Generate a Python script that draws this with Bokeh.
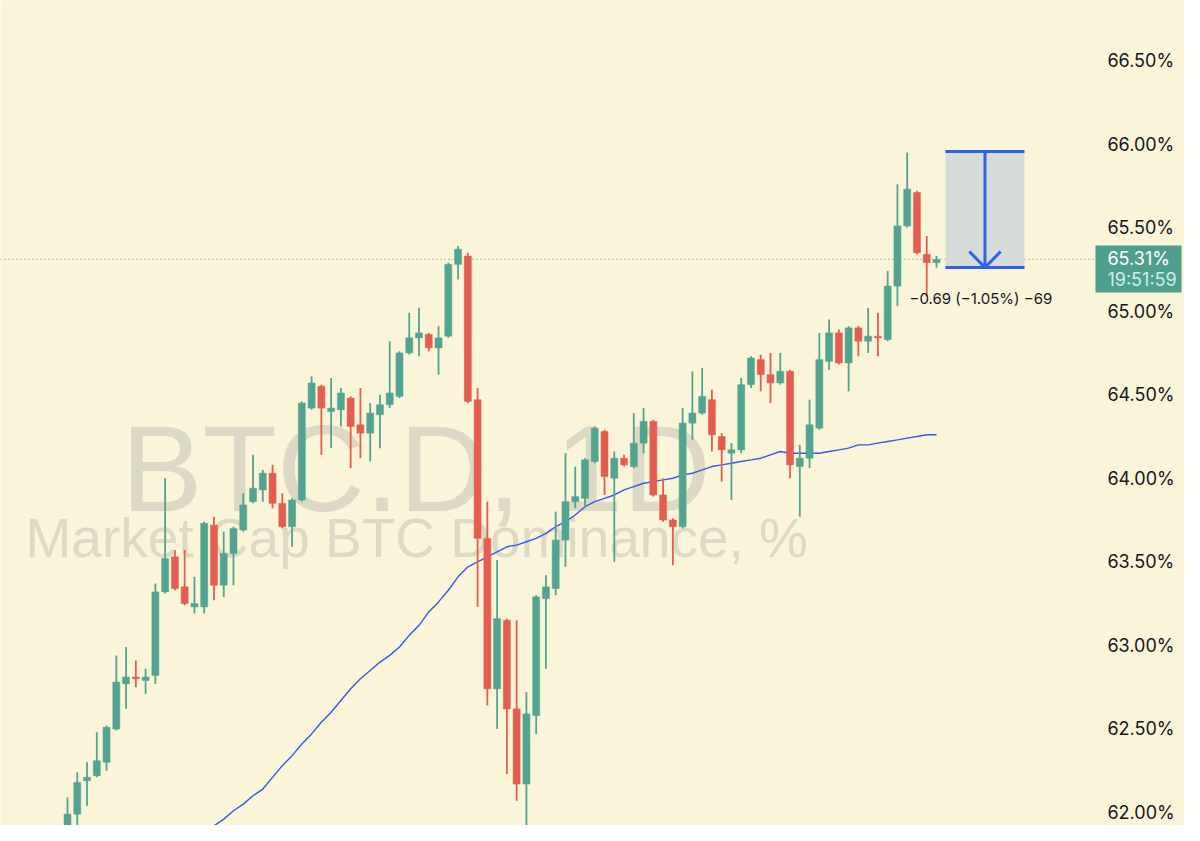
from bokeh.plotting import figure
from bokeh.models import Range1d, FixedTicker, PrintfTickFormatter, Label, ColumnDataSource
from bokeh.embed import file_html
from bokeh.resources import INLINE

# ---------------- data (daily candles, BTC.D %) ----------------
opens = [61.75, 61.99, 62.19, 62.22, 62.30, 62.50, 62.77, 62.81, 62.79, 62.82,
         63.32, 63.53, 63.35, 63.23, 63.23, 63.72, 63.36, 63.55, 63.69, 63.86,
         63.93, 64.03, 63.85, 63.71, 63.87, 64.42, 64.55, 64.40, 64.41, 64.48,
         64.32, 64.27, 64.38, 64.44, 64.49, 64.75, 64.84, 64.86, 64.78, 64.85,
         65.28, 65.33, 64.47, 63.64, 62.74, 63.15, 62.62, 62.17, 62.58, 63.28,
         63.34, 63.63, 63.86, 63.88, 64.10, 64.28, 64.00, 64.12, 64.07, 64.21,
         64.34, 63.90, 63.75, 63.71, 64.33, 64.39, 64.47, 64.25, 64.15, 64.17,
         64.56, 64.71, 64.62, 64.57, 64.64, 64.07, 64.12, 64.30, 64.70, 64.87,
         64.69, 64.90, 64.82, 64.85, 64.83, 65.15, 65.51, 65.71, 65.34, 65.29]
highs = [62.09, 62.24, 62.30, 62.48, 62.52, 62.94, 62.99, 62.91, 62.86, 63.37,
         64.00, 63.57, 63.57, 63.41, 63.74, 63.77, 63.68, 63.71, 63.91, 64.14,
         64.05, 64.08, 63.91, 63.88, 64.46, 64.61, 64.56, 64.60, 64.54, 64.49,
         64.54, 64.45, 64.50, 64.82, 64.76, 64.99, 65.02, 64.87, 64.91, 65.29,
         65.39, 65.35, 64.54, 63.86, 63.51, 63.16, 63.15, 62.72, 63.30, 63.42,
         63.80, 64.15, 64.07, 64.12, 64.31, 64.29, 64.16, 64.14, 64.39, 64.42,
         64.35, 64.00, 63.76, 64.42, 64.64, 64.66, 64.53, 64.27, 64.21, 64.60,
         64.73, 64.74, 64.75, 64.75, 64.65, 64.20, 64.47, 64.87, 64.95, 64.89,
         64.91, 64.91, 65.02, 64.99, 65.24, 65.76, 65.95, 65.72, 65.45, 65.33]
lows = [61.70, 61.88, 62.04, 62.21, 62.25, 62.49, 62.62, 62.75, 62.71, 62.77,
        63.31, 63.33, 63.24, 63.19, 63.19, 63.27, 63.29, 63.36, 63.68, 63.85,
        63.86, 63.82, 63.70, 63.59, 63.86, 64.41, 64.14, 64.18, 64.31, 64.06,
        64.12, 64.10, 64.18, 64.42, 64.48, 64.74, 64.73, 64.76, 64.62, 64.84,
        65.19, 64.45, 63.23, 62.64, 62.50, 62.23, 62.07, 61.90, 62.47, 62.86,
        63.30, 63.47, 63.82, 63.82, 64.09, 63.90, 63.50, 64.07, 64.06, 64.15,
        63.89, 63.74, 63.48, 63.70, 64.23, 64.38, 64.16, 63.98, 63.87, 64.15,
        64.54, 64.52, 64.45, 64.56, 64.00, 63.77, 64.06, 64.29, 64.65, 64.68,
        64.52, 64.73, 64.75, 64.73, 64.82, 65.03, 65.50, 65.34, 65.09, 65.26]
closes = [61.99, 62.18, 62.21, 62.31, 62.51, 62.78, 62.81, 62.80, 62.81, 63.32,
          63.52, 63.34, 63.25, 63.25, 63.73, 63.36, 63.55, 63.70, 63.84, 63.94,
          64.03, 63.85, 63.71, 63.87, 64.45, 64.57, 64.42, 64.42, 64.51, 64.31,
          64.27, 64.39, 64.44, 64.51, 64.75, 64.84, 64.87, 64.78, 64.84, 65.28,
          65.37, 64.46, 63.64, 62.74, 63.16, 62.62, 62.17, 62.59, 63.29, 63.35,
          63.63, 63.86, 63.89, 64.11, 64.30, 64.01, 64.12, 64.08, 64.21, 64.34,
          63.90, 63.75, 63.71, 64.33, 64.39, 64.49, 64.26, 64.17, 64.17, 64.56,
          64.72, 64.62, 64.57, 64.64, 64.08, 64.12, 64.32, 64.71, 64.87, 64.69,
          64.90, 64.82, 64.85, 64.84, 65.15, 65.51, 65.73, 65.35, 65.29, 65.31]

# moving average (starts at candle 13)
ma_start = 13
ma_values = [61.83, 61.87, 61.92, 61.96, 62.01, 62.05, 62.10, 62.14, 62.21, 62.28,
             62.34, 62.41, 62.47, 62.54, 62.60, 62.67, 62.74, 62.80, 62.85, 62.90,
             62.94, 62.99, 63.06, 63.12, 63.20, 63.26, 63.33, 63.41, 63.47, 63.50,
             63.53, 63.56, 63.59, 63.60, 63.62, 63.64, 63.67, 63.71, 63.74, 63.78,
             63.83, 63.86, 63.88, 63.90, 63.93, 63.95, 63.97, 63.98, 63.99, 64.00,
             64.02, 64.03, 64.05, 64.07, 64.08, 64.09, 64.10, 64.11, 64.12, 64.14,
             64.16, 64.15, 64.15, 64.15, 64.15, 64.16, 64.17, 64.18, 64.20, 64.20,
             64.21, 64.22, 64.23, 64.24, 64.25, 64.26, 64.26]

tick_values = [62.0, 62.5, 63.0, 63.5, 64.0, 64.5, 65.0, 65.5, 66.0, 66.5]
last_price = 65.31
last_price_text = "65.31%"
countdown_text = "19:51:59"

# price-range measurement (from the high down to the latest price)
measure_high = 65.955
measure_low = 65.261
measure_text = "\u22120.69 (\u22121.05%) \u221269"

watermark_title = "BTC.D, 1D"
watermark_sub = "Market Cap BTC Dominance, %"

# ---------------- style ----------------
BG = "#faf4d8"
UP = "#52a490"
DOWN = "#e35e51"
MA_COLOR = "#3559ec"
TOOL_BLUE = "#2f60f4"
WM = "#dcd9c4"
TAG = "#4f9f8e"

X0, X1 = -6.862, 114.40          # frame spans the whole width
SCALE_X = 105.28                  # where the price scale begins
Y0, Y1 = 61.922, 66.859

idx = list(range(len(opens)))
colors = [UP if c >= o else DOWN for o, c in zip(opens, closes)]
src = ColumnDataSource(dict(
    x=idx, o=opens, h=highs, l=lows, c=closes,
    top=[max(o, c) for o, c in zip(opens, closes)],
    bot=[min(o, c) for o, c in zip(opens, closes)],
    col=colors))

p = figure(width=1184, height=825, output_backend="svg", toolbar_location=None,
           x_range=Range1d(X0, X1), y_range=Range1d(Y0, Y1),
           x_axis_location=None, y_axis_location="right",
           min_border_left=0, min_border_top=0, min_border_bottom=0, min_border_right=0,
           background_fill_color=BG, border_fill_color=BG, outline_line_color=None)
p.grid.visible = False

ax = p.yaxis[0]
ax.fixed_location = SCALE_X
ax.ticker = FixedTicker(ticks=tick_values)
ax.formatter = PrintfTickFormatter(format="%.2f%%")
ax.axis_line_color = None
ax.major_tick_line_color = None
ax.minor_tick_line_color = None
ax.major_tick_out = 0
ax.major_tick_in = 0
ax.major_label_standoff = 12
ax.major_label_text_font = "Inter"
ax.major_label_text_font_size = "18px"
ax.major_label_text_color = "#131722"

# watermark
p.add_layout(Label(x=5.5, y=64.053, text=watermark_title, text_font="Liberation Sans",
                   text_font_size="122px", text_color=WM, text_align="left",
                   text_baseline="alphabetic", level="underlay"))
p.add_layout(Label(x=-4.3, y=63.64, text=watermark_sub, text_font="Liberation Sans",
                   text_font_size="55px", text_color=WM, text_align="left",
                   text_baseline="alphabetic", level="underlay"))

# last price dotted line (up to the price scale)
p.segment(x0=[X0], y0=[last_price], x1=[SCALE_X], y1=[last_price],
          line_color="#5f8c82", line_width=1, line_dash="1 3")

# moving average
p.line(x=list(range(ma_start, ma_start + len(ma_values))), y=ma_values,
       line_color=MA_COLOR, line_width=1.4)

# candles
p.segment(x0="x", y0="l", x1="x", y1="h", line_color="col", line_width=1.8, source=src)
p.vbar(x="x", width=0.72, top="top", bottom="bot", fill_color="col", line_color="col",
       line_width=0.5, source=src)

# measurement tool
m_left, m_right = 89.92, 98.01
m_mid = (m_left + m_right) / 2
p.quad(left=[m_left], right=[m_right], top=[measure_high], bottom=[measure_low],
       fill_color="#d6dcd8", line_color=None)
p.segment(x0=[m_left, m_left, m_mid], y0=[measure_high, measure_low, measure_high],
          x1=[m_right, m_right, m_mid], y1=[measure_high, measure_low, measure_low],
          line_color=TOOL_BLUE, line_width=3)
head_dx = 1.6
head_dy = 0.096
p.segment(x0=[m_mid - head_dx, m_mid + head_dx], y0=[measure_low + head_dy] * 2,
          x1=[m_mid, m_mid], y1=[measure_low, measure_low],
          line_color=TOOL_BLUE, line_width=3)
p.add_layout(Label(x=86.24, y=65.076, text=measure_text, text_font="Inter",
                   text_font_size="15px", text_color="#131722", text_align="left",
                   text_baseline="middle", level="overlay"))

# last price tag on the price scale
tag_top, tag_bottom = 65.393, 65.112
p.quad(left=[SCALE_X], right=[X1 - 0.3], top=[tag_top], bottom=[tag_bottom],
       fill_color=TAG, line_color=None)
p.add_layout(Label(x=SCALE_X, y=last_price, x_offset=12, y_offset=1, text=last_price_text,
                   text_font="Inter", text_font_size="18px", text_color="#ffffff",
                   text_align="left", text_baseline="middle", level="overlay"))
p.add_layout(Label(x=SCALE_X, y=65.189, x_offset=12, text=countdown_text,
                   text_font="Inter", text_font_size="18px", text_color="#d3ece5",
                   text_align="left", text_baseline="middle", level="overlay"))

open("out.html", "w").write(file_html(p, INLINE))
